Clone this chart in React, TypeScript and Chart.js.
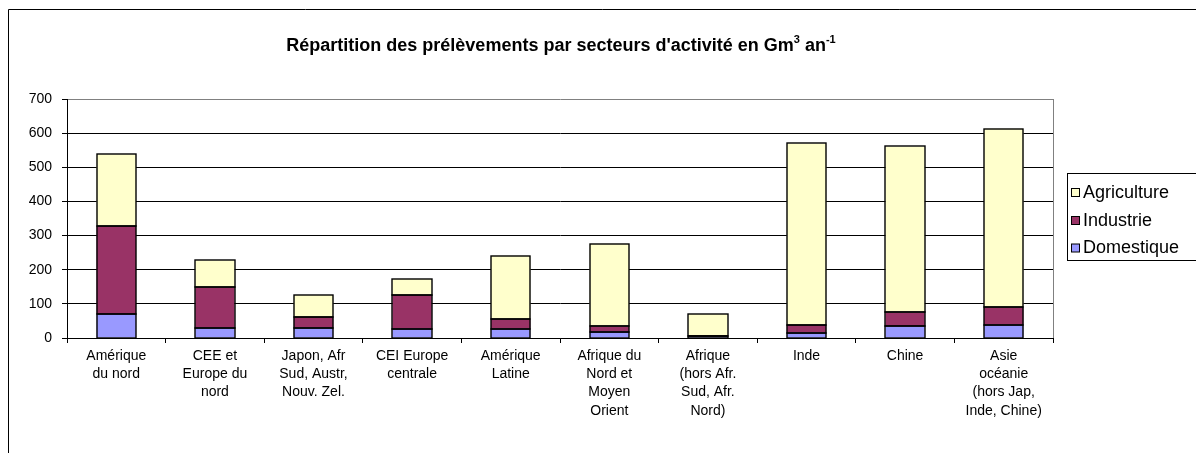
import React, { useEffect, useRef } from "react";
import { Chart, registerables } from "chart.js";

Chart.register(...registerables);

const categories: string[][] = [
  ["Amérique", "du nord"],
  ["CEE et", "Europe du", "nord"],
  ["Japon, Afr", "Sud, Austr,", "Nouv. Zel."],
  ["CEI Europe", "centrale"],
  ["Amérique", "Latine"],
  ["Afrique du", "Nord et", "Moyen", "Orient"],
  ["Afrique", "(hors Afr.", "Sud, Afr.", "Nord)"],
  ["Inde"],
  ["Chine"],
  ["Asie", "océanie", "(hors Jap,", "Inde, Chine)"],
];

const domestique = [70, 30, 30, 27, 27, 19, 5, 16, 34, 39];
const industrie = [258, 119, 32, 99, 28, 15, 2, 23, 41, 51];
const agriculture = [210, 79, 64, 47, 186, 242, 63, 531, 486, 523];

const yTicks = [0, 100, 200, 300, 400, 500, 600, 700];

const FONT = '"Liberation Sans", Arial, Helvetica, sans-serif';

const framePlugin = {
  id: "frame",
  beforeDraw(chart: any) {
    const c = chart.ctx;
    c.save();
    c.fillStyle = "#ffffff";
    c.fillRect(0, 0, chart.width, chart.height);
    c.strokeStyle = "#000000";
    c.lineWidth = 1;
    c.beginPath();
    c.moveTo(8.5, chart.height);
    c.lineTo(8.5, 9.5);
    c.lineTo(chart.width, 9.5);
    c.stroke();
    c.restore();
  },
  afterDatasetsDraw(chart: any) {
    const c = chart.ctx;
    c.save();
    c.strokeStyle = "#000000";
    c.lineWidth = 1.4;
    chart.data.datasets.forEach((_ds: any, di: number) => {
      const meta = chart.getDatasetMeta(di);
      meta.data.forEach((el: any) => {
        const l = Math.round(el.x - el.width / 2);
        const r = Math.round(el.x + el.width / 2);
        const t = Math.round(Math.min(el.y, el.base));
        const b = Math.round(Math.max(el.y, el.base));
        c.strokeRect(l, t, r - l, b - t);
      });
    });
    c.restore();
  },
  afterDraw(chart: any) {
    const c = chart.ctx;
    const a = chart.chartArea;
    c.save();
    // right border of plot area
    c.strokeStyle = "#808080";
    c.lineWidth = 1;
    c.beginPath();
    c.moveTo(Math.round(a.right) + 0.5, a.top);
    c.lineTo(Math.round(a.right) + 0.5, a.bottom);
    c.stroke();

    // title with superscripts
    const main = "Répartition des prélèvements par secteurs d'activité en Gm";
    const sup1 = "3";
    const mid = " an";
    const sup2 = "-1";
    const bigFont = "bold 18px " + FONT;
    const supFont = "bold 11px " + FONT;
    c.font = bigFont;
    const wMain = c.measureText(main).width;
    const wMid = c.measureText(mid).width;
    c.font = supFont;
    const wS1 = c.measureText(sup1).width;
    const wS2 = c.measureText(sup2).width;
    const total = wMain + wS1 + wMid + wS2;
    let x = 561 - total / 2;
    const base = 51;
    c.fillStyle = "#000000";
    c.textBaseline = "alphabetic";
    c.textAlign = "left";
    c.font = bigFont;
    c.fillText(main, x, base);
    x += wMain;
    c.font = supFont;
    c.fillText(sup1, x, base - 8);
    x += wS1;
    c.font = bigFont;
    c.fillText(mid, x, base);
    x += wMid;
    c.font = supFont;
    c.fillText(sup2, x, base - 8);

    // legend
    const lx = 1067.5;
    const ly = 173.5;
    c.strokeStyle = "#000000";
    c.lineWidth = 1;
    c.strokeRect(lx, ly, 140, 87);
    const order = [2, 1, 0];
    const ys = [192, 220, 247.5];
    c.font = "18px " + FONT;
    c.textBaseline = "middle";
    order.forEach((di, i) => {
      const ds = chart.data.datasets[di];
      const y = ys[i];
      c.fillStyle = ds.backgroundColor;
      c.fillRect(1071.5, y - 3.5, 8, 8);
      c.strokeStyle = "#000000";
      c.strokeRect(1071.5, y - 3.5, 8, 8);
      c.fillStyle = "#000000";
      c.fillText(ds.label, 1083, y + 1);
    });
    c.restore();
  },
};

export default function App() {
  const ref = useRef<HTMLCanvasElement>(null);
  useEffect(() => {
    if (!ref.current) return;
    const chart = new Chart(ref.current, {
      type: "bar",
      data: {
        labels: categories,
        datasets: [
          {
            label: "Domestique",
            data: domestique,
            backgroundColor: "#9999FF",
            borderWidth: 0,
          },
          {
            label: "Industrie",
            data: industrie,
            backgroundColor: "#993366",
            borderWidth: 0,
          },
          {
            label: "Agriculture",
            data: agriculture,
            backgroundColor: "#FFFFCC",
            borderWidth: 0,
          },
        ],
      },
      options: {
        responsive: false,
        animation: false,
        devicePixelRatio: 1,
        layout: { padding: { left: 0, right: 143, top: 99, bottom: 0 } },
        datasets: { bar: { barPercentage: 0.4, categoryPercentage: 1 } },
        plugins: {
          legend: { display: false },
          title: { display: false },
          tooltip: { enabled: false },
        },
        scales: {
          x: {
            stacked: true,
            offset: true,
            grid: {
              offset: true,
              drawOnChartArea: false,
              drawTicks: true,
              tickLength: 5,
              color: "#000000",
            },
            border: { color: "#000000", width: 1 },
            ticks: {
              color: "#000000",
              font: { family: FONT, size: 14, lineHeight: 1.3 },
              maxRotation: 0,
              minRotation: 0,
              autoSkip: false,
              padding: 4,
            },
            afterFit(scale: any) {
              scale.height = 115;
            },
          },
          y: {
            stacked: true,
            min: 0,
            max: 700,
            afterBuildTicks(scale: any) {
              scale.ticks = yTicks.map((v) => ({ value: v }));
            },
            grid: {
              color: (ctx: any) =>
                ctx.tick && ctx.tick.value === 700 ? "#808080" : "#000000",
              tickColor: "#000000",
              tickLength: 5,
              drawTicks: true,
            },
            border: { color: "#000000", width: 1 },
            ticks: {
              color: "#000000",
              font: { family: FONT, size: 14 },
              padding: 10,
            },
            afterFit(scale: any) {
              scale.width = 67;
            },
          },
        },
      },
      plugins: [framePlugin],
    });
    return () => chart.destroy();
  }, []);
  return (
    <div style={{ position: "fixed", left: 0, top: 0, width: 1196, height: 453 }}>
      <canvas ref={ref} width={1196} height={453} style={{ display: "block" }} />
    </div>
  );
}
